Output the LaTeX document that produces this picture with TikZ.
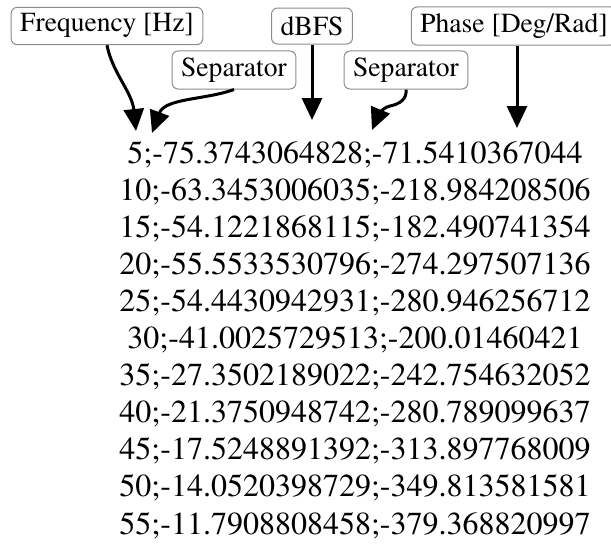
\documentclass[tikz,border=0pt]{standalone}
\usepackage[T1]{fontenc}
\renewcommand{\rmdefault}{ptm}
\usetikzlibrary{arrows.meta}
\begin{document}
\begin{tikzpicture}[x=0.5pt,y=-0.5pt,
  tag/.style={draw=black!45, line width=0.5pt, rounded corners=3pt,
    inner xsep=4.5pt, minimum height=18pt, font=\fontsize{13.8}{16}\selectfont},
  row/.style={inner sep=0pt, anchor=base, font=\fontsize{16}{18}\selectfont},
  pointer/.style={line width=1.5pt, -{Triangle[length=11pt,width=10pt]}}]
\useasboundingbox (0,0) rectangle (611,552);
% column labels
\node[tag] (freq)  at (107,26) {Frequency [Hz]};
\node[tag] (dbfs)  at (312,26) {dBFS};
\node[tag] (phase) at (514,26) {Phase [Deg/Rad]};
\node[tag] (sepa)  at (234,70) {Separator};
\node[tag] (sepb)  at (406,70) {Separator};
% data rows
\foreach \t [count=\i] in {5;-75.3743064828;-71.5410367044,
  10;-63.3453006035;-218.984208506,
  15;-54.1221868115;-182.490741354,
  20;-55.5533530796;-274.297507136,
  25;-54.4430942931;-280.946256712,
  30;-41.0025729513;-200.01460421,
  35;-27.3502189022;-242.754632052,
  40;-21.3750948742;-280.789099637,
  45;-17.5248891392;-313.897768009,
  50;-14.0520398729;-349.813581581,
  55;-11.7908808458;-379.368820997}
  \node[row] (r\i) at (355,{163+(\i-1)*37.1}) {\t};
% arrow tips
\coordinate (tfreq)  at (136,131);
\coordinate (tsepa)  at (152,133);
\coordinate (tdbfs)  at (312,120);
\coordinate (tsepb)  at (372,130);
\coordinate (tphase) at (517,128);
% pointers
\draw[pointer] (freq.south) .. controls (112,72) and (132,92) .. (tfreq);
\draw[pointer] (sepa.south) .. controls (205,100) and (165,98) .. (tsepa);
\draw[pointer] (sepb.south) .. controls (407,99) and (400,104) .. (390,106)
  .. controls (381,108) and (377,118) .. (tsepb);
\draw[pointer] (dbfs.south) -- (tdbfs);
\draw[pointer] (phase.south -| tphase) -- (tphase);
\end{tikzpicture}
\end{document}
